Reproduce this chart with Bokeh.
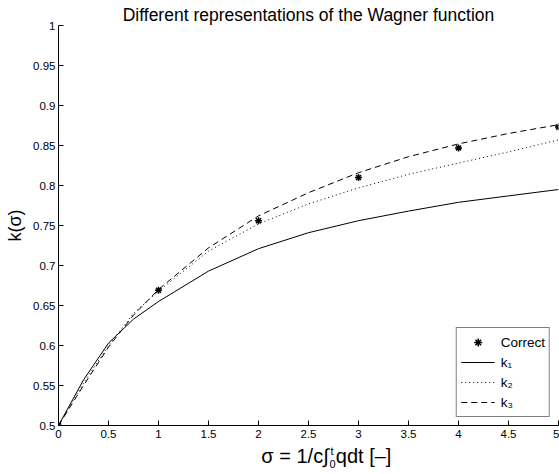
from bokeh.plotting import figure
from bokeh.layouts import column
from bokeh.models import Range1d, FixedTicker, Legend, LegendItem
from bokeh.core.properties import value
from bokeh.embed import file_html
from bokeh.resources import INLINE

# ---- data ----
sigma = [0, 0.25, 0.5, 0.75, 1, 1.5, 2, 2.5, 3, 3.5, 4, 4.5, 5]
k1 = [0.5, 0.557, 0.603, 0.633, 0.655, 0.693, 0.721, 0.741, 0.756, 0.768, 0.779, 0.787, 0.795]
k2 = [0.5, 0.553, 0.600, 0.640, 0.668, 0.718, 0.752, 0.777, 0.797, 0.814, 0.828, 0.842, 0.857]
k3 = [0.5, 0.550, 0.598, 0.638, 0.670, 0.722, 0.762, 0.791, 0.816, 0.836, 0.852, 0.865, 0.876]
correct_sigma = [0, 1, 2, 3, 4, 5]
correct_k = [0.5, 0.669, 0.756, 0.810, 0.847, 0.873]

x_ticks = [0, 0.5, 1, 1.5, 2, 2.5, 3, 3.5, 4, 4.5, 5]
x_tick_labels = ["0", "0.5", "1", "1.5", "2", "2.5", "3", "3.5", "4", "4.5", "5"]
y_ticks = [0.5, 0.55, 0.6, 0.65, 0.7, 0.75, 0.8, 0.85, 0.9, 0.95, 1]
y_tick_labels = ["0.5", "0.55", "0.6", "0.65", "0.7", "0.75", "0.8", "0.85", "0.9", "0.95", "1"]

title_text = "Different representations of the Wagner function"
y_label = "k(\u03c3)"
x_label_parts = ["\u03c3 = 1/c\u222b", "t", "0", "qdt [\u2013]"]
legend_labels = ["Correct", "k\u2081", "k\u2082", "k\u2083"]

FONT = "Liberation Sans"

p = figure(width=559, height=442, output_backend="svg", toolbar_location=None,
           x_range=Range1d(0, 5), y_range=Range1d(0.5, 1),
           min_border_left=58, min_border_right=1, min_border_top=25, min_border_bottom=17,
           title=title_text)
p.outline_line_color = None
p.xgrid.visible = False
p.ygrid.visible = False
p.background_fill_color = "white"
p.border_fill_color = "white"

p.title.align = "center"
p.title.text_font = FONT
p.title.text_font_style = "normal"
p.title.text_font_size = "17.5px"
p.title.text_color = "black"
p.title.standoff = 2

for ax, ticks, labels in ((p.xaxis[0], x_ticks, x_tick_labels), (p.yaxis[0], y_ticks, y_tick_labels)):
    ax.ticker = FixedTicker(ticks=ticks)
    ax.major_label_overrides = {float(t): l for t, l in zip(ticks, labels)}
    ax.minor_tick_line_color = None
    ax.major_tick_in = 5
    ax.major_tick_out = 0
    ax.axis_line_color = "black"
    ax.major_tick_line_color = "black"
    ax.major_label_text_font = FONT
    ax.major_label_text_font_size = "11.5px"
    ax.major_label_text_color = "black"
    ax.axis_label_text_font = FONT
    ax.axis_label_text_font_style = "normal"
    ax.axis_label_text_font_size = "18px"
    ax.axis_label_text_color = "black"

p.xaxis.major_label_standoff = 4
p.yaxis.major_label_standoff = 3
p.yaxis.axis_label = y_label
p.yaxis.axis_label_standoff = 5

r1 = p.line(sigma, k1, line_color="black", line_width=1)
r2 = p.line(sigma, k2, line_color="black", line_width=1, line_dash="1 3")
r3 = p.line(sigma, k3, line_color="black", line_width=1, line_dash="6 4")
rc = p.scatter(correct_sigma, correct_k, marker="asterisk", size=7, line_color="black", line_width=1.5)

legend = Legend(items=[LegendItem(label=legend_labels[0], renderers=[rc]),
                       LegendItem(label=legend_labels[1], renderers=[r1]),
                       LegendItem(label=legend_labels[2], renderers=[r2]),
                       LegendItem(label=legend_labels[3], renderers=[r3])],
                location="bottom_right")
legend.margin = 8
legend.padding = 4
legend.spacing = 0
legend.glyph_width = 34
legend.glyph_height = 20
legend.label_height = 20
legend.label_standoff = 6
legend.label_text_font = FONT
legend.label_text_font_size = "13.5px"
legend.label_text_color = "black"
legend.border_line_color = "black"
legend.border_line_width = 1
legend.background_fill_alpha = 1
p.add_layout(legend, "center")

# strip below the chart holding the x-axis label (integral with stacked limits);
# its ranges are set so that one unit is about one pixel of the page
q = figure(width=559, height=32, output_backend="svg", toolbar_location=None,
           x_range=Range1d(0, 559), y_range=Range1d(474, 442),
           x_axis_location=None, y_axis_location=None,
           min_border_left=0, min_border_right=0, min_border_top=0, min_border_bottom=0)
q.outline_line_color = None
q.xgrid.visible = False
q.ygrid.visible = False
q.background_fill_color = "white"
q.border_fill_color = "white"
q.text(x=[302], y=[455], text=[x_label_parts[0]], text_align="right", text_baseline="middle",
       text_font=value(FONT), text_font_size="20px", text_color="black")
q.text(x=[304], y=[450], text=[x_label_parts[1]], text_align="left", text_baseline="middle",
       text_font=value(FONT), text_font_size="11px", text_color="black")
q.text(x=[303], y=[463], text=[x_label_parts[2]], text_align="left", text_baseline="middle",
       text_font=value(FONT), text_font_size="11px", text_color="black")
q.text(x=[310], y=[455], text=[x_label_parts[3]], text_align="left", text_baseline="middle",
       text_font=value(FONT), text_font_size="20px", text_color="black")

layout = column(p, q, spacing=0)
open("out.html", "w").write(file_html(layout, INLINE))
